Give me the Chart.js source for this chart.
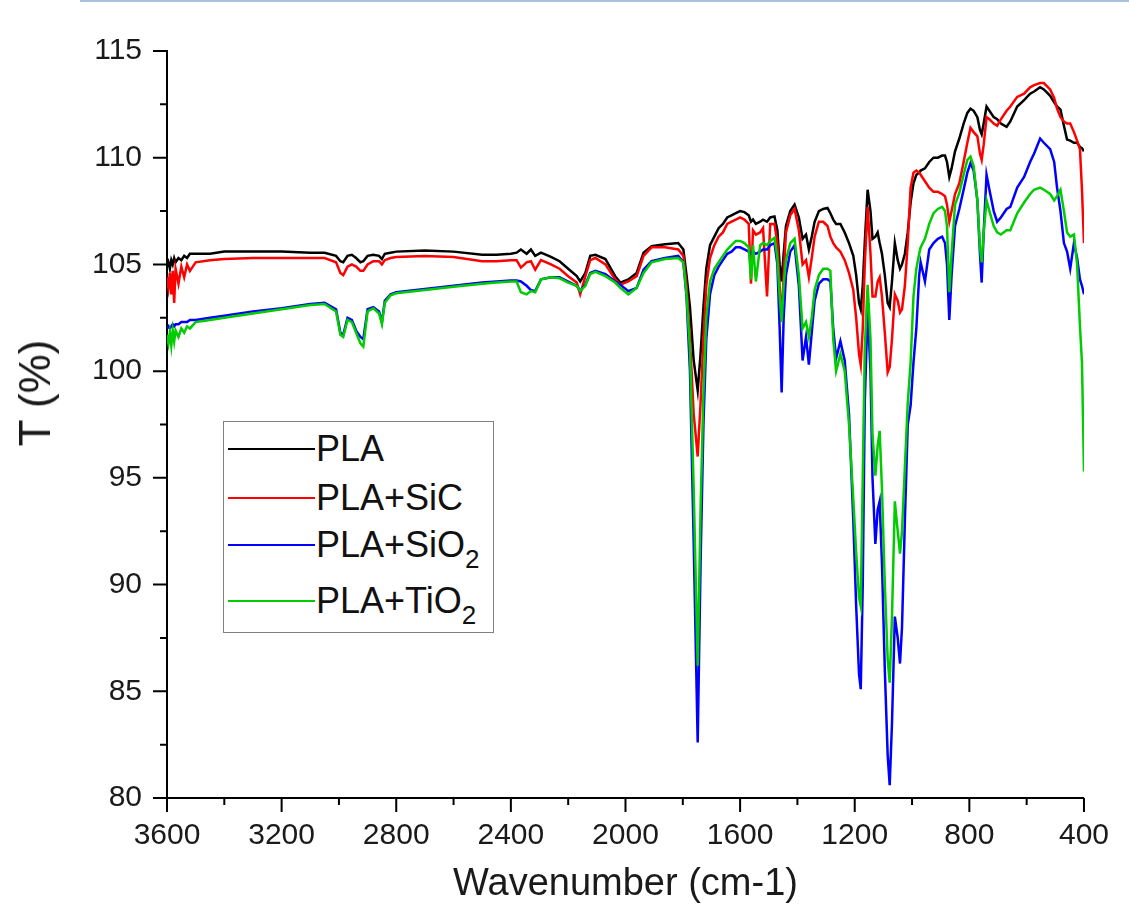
<!DOCTYPE html>
<html>
<head>
<meta charset="utf-8">
<script src="https://cdn.jsdelivr.net/npm/chart.js@4.4.1/dist/chart.umd.min.js"></script>
<style>
  html, body { margin: 0; padding: 0; background: #fff; }
  #wrap { position: relative; width: 1129px; height: 916px; }
  #topRule { position: absolute; left: 80px; right: 0; top: 0; height: 2px; background: #a9c0de; }
  #yTitle {
    position: absolute; left: 35px; top: 393px; transform: translate(-50%, -50%) rotate(-90deg);
    font-family: "Liberation Sans", Arial, sans-serif; font-size: 44px; color: #1a1a1a; white-space: nowrap;
  }
  #legend {
    position: absolute; left: 223px; top: 421px; width: 269px; height: 210px;
    border: 1.5px solid #808080; background: #fff;
    font-family: "Liberation Sans", Arial, sans-serif; font-size: 36px; color: #111;
  }
  .row { position: absolute; left: 4px; height: 40px; display: flex; align-items: center; white-space: nowrap; }
  .row .swatch { width: 87px; height: 2.5px; margin-right: 1px; }
  .row sub { font-size: 26px; vertical-align: -11px; line-height: 0; }
</style>
</head>
<body>
<div id="wrap">
  <div id="topRule"></div>
  <canvas id="chart" width="1129" height="916"></canvas>
  <div id="yTitle">T (%)</div>
  <div id="legend"></div>
</div>
<script>
// FTIR spectra, wavenumber (cm-1) vs transmittance (%)
const wavenumbers = [
  3600, 3595, 3590, 3585, 3580, 3575, 3570, 3560, 3550, 3540,
  3530, 3520, 3500, 3450, 3400, 3300, 3200, 3100, 3050, 3010,
  2995, 2985, 2970, 2955, 2940, 2925, 2915, 2900, 2880, 2860,
  2850, 2840, 2820, 2800, 2700, 2600, 2500, 2450, 2400, 2380,
  2365, 2345, 2330, 2315, 2295, 2260, 2230, 2200, 2170, 2158,
  2140, 2123, 2105, 2070, 2036, 2018, 1990, 1961, 1937, 1909,
  1862, 1816, 1798, 1787, 1775, 1762, 1748, 1738, 1728, 1718,
  1705, 1690, 1675, 1660, 1645, 1630, 1615, 1600, 1585, 1570,
  1562, 1555, 1545, 1530, 1520, 1506, 1495, 1480, 1470, 1462,
  1455, 1448, 1440, 1425, 1410, 1395, 1382, 1370, 1360, 1350,
  1340, 1325, 1310, 1295, 1285, 1275, 1265, 1250, 1235, 1220,
  1205, 1195, 1185, 1179, 1172, 1165, 1155, 1145, 1138, 1128,
  1120, 1113, 1105, 1095, 1085, 1078, 1070, 1060, 1050, 1042,
  1035, 1025, 1015, 1005, 995, 985, 975, 970, 955, 940,
  925, 910, 895, 885, 878, 870, 862, 850, 835, 820,
  807, 796, 785, 772, 763, 757, 750, 740, 730, 715,
  703, 690, 670, 657, 633, 609, 588, 574, 553, 540,
  518, 504, 494, 482, 470, 459, 448, 435, 424, 414,
  407, 400
];

const plaT = [
  104.9, 105.1, 104.8, 105.2, 105.0, 105.3, 105.1, 105.3, 105.2, 105.4,
  105.3, 105.5, 105.5, 105.5, 105.6, 105.6, 105.6, 105.55, 105.55, 105.4,
  105.15, 105.1, 105.4, 105.45, 105.3, 105.1, 105.15, 105.4, 105.45, 105.4,
  105.25, 105.5, 105.55, 105.6, 105.65, 105.6, 105.45, 105.45, 105.5, 105.55,
  105.7, 105.5, 105.7, 105.4, 105.55, 105.35, 105.15, 104.8, 104.45, 104.2,
  104.6, 105.4, 105.45, 105.25, 104.45, 104.15, 104.3, 104.6, 105.55, 105.85,
  105.95, 106.0, 105.7, 104.5, 103.0, 100.5, 99.1, 100.8, 103.0, 104.8,
  105.9, 106.3, 106.7, 106.9, 107.2, 107.3, 107.4, 107.5, 107.45, 107.3,
  107.0, 107.1, 106.9, 107.0, 107.1, 107.0, 107.2, 107.25, 106.6, 105.0,
  104.2, 105.5, 106.8, 107.5, 107.8, 107.2, 106.2, 106.4, 105.7, 106.3,
  107.0, 107.5, 107.6, 107.65, 107.4, 107.1, 106.9, 106.9, 106.5, 106.0,
  105.4, 104.5, 103.2, 102.9, 104.0, 106.0, 108.5, 107.5, 106.2, 106.3,
  106.5, 106.0, 105.5, 104.5, 103.2, 103.0, 104.2, 106.0, 105.2, 104.8,
  105.0, 105.5, 106.5, 107.9, 108.8, 109.2, 109.3, 109.4, 109.5, 109.8,
  110.0, 110.0, 110.1, 110.1, 109.8, 109.1, 109.5, 110.3, 110.9, 111.6,
  112.1, 112.3, 112.2, 111.9, 111.3, 111.1, 111.6, 112.4, 112.2, 111.9,
  111.8, 111.6, 111.45, 111.7, 112.4, 112.7, 113.0, 113.1, 113.3, 113.2,
  112.9, 112.6, 112.4, 112.25, 111.5, 110.85, 110.8, 110.7, 110.7, 110.5,
  110.45, 110.3
];

const sicT = [
  104.4, 103.9, 104.6, 103.6, 104.7, 103.2, 104.8, 104.1, 104.9, 104.4,
  105.0, 104.7, 105.1, 105.2, 105.25, 105.3, 105.3, 105.3, 105.3, 105.1,
  104.6, 104.5, 104.9, 105.0, 104.9, 104.7, 104.7, 105.0, 105.15, 105.15,
  105.0, 105.2, 105.3, 105.35, 105.4, 105.35, 105.15, 105.15, 105.2, 105.2,
  104.85, 105.1, 105.15, 104.75, 105.2, 105.0, 104.8, 104.45, 104.15, 103.6,
  104.45, 105.2, 105.3, 105.0, 104.3, 104.05, 104.2, 104.45, 105.4, 105.8,
  105.8, 105.7, 105.4, 104.0, 101.5, 98.0, 96.0, 98.5, 101.5, 104.0,
  105.3, 105.9, 106.3, 106.5, 106.9, 107.0, 107.1, 107.2, 107.1, 106.9,
  104.1, 106.6, 106.4, 106.5, 106.7, 103.5, 106.9, 106.9, 106.0, 104.0,
  102.3, 104.5, 106.5, 107.3, 107.6, 106.6, 105.0, 105.2, 104.4, 105.3,
  106.3, 107.0, 107.0, 106.8, 106.3, 106.0, 105.8, 105.6, 105.2, 104.6,
  103.8, 102.5, 100.8, 100.3, 102.0, 105.0, 107.7, 105.5, 103.5, 103.5,
  104.2, 104.4, 103.5, 101.8, 99.95, 100.2, 101.5, 103.6, 103.3, 102.75,
  102.9, 104.0, 106.0, 108.6, 109.3, 109.4, 109.3, 109.2, 108.9, 108.6,
  108.4, 108.4, 108.3, 108.2, 107.8, 107.0, 107.5, 108.3, 108.8, 109.8,
  110.7, 111.4, 111.2, 111.0, 110.2, 109.9, 110.6, 111.9, 111.8, 111.6,
  111.5, 111.8, 112.2, 112.4, 112.85, 113.0, 113.3, 113.4, 113.5, 113.5,
  113.2, 112.8, 112.3, 111.9, 111.7, 111.6, 111.6, 111.2, 110.8, 110.4,
  108.5, 106.0
];

const sio2T = [
  102.0, 102.1, 102.0, 102.1, 102.2, 102.1, 102.2, 102.2, 102.3, 102.3,
  102.3, 102.4, 102.4, 102.5, 102.6, 102.8, 102.95, 103.15, 103.2, 102.9,
  101.8, 101.7, 102.5, 102.4, 101.9, 101.6, 101.5, 102.9, 103.0, 102.8,
  102.3, 103.3, 103.6, 103.7, 103.85, 104.0, 104.15, 104.2, 104.25, 104.25,
  104.2, 104.0, 103.8, 103.75, 104.3, 104.4, 104.4, 104.2, 104.0, 103.75,
  104.05, 104.6, 104.7, 104.55, 104.2, 104.05, 103.75, 103.9, 104.75, 105.15,
  105.3, 105.4, 105.1, 103.5, 100.0, 92.0, 82.6, 91.0, 97.5, 101.5,
  103.6, 104.5, 104.9, 105.2, 105.5, 105.6, 105.8, 105.8, 105.7, 105.6,
  105.5, 105.6, 105.5, 105.6, 105.7, 105.7, 105.9, 106.0, 105.0, 102.0,
  99.0, 102.5, 104.5, 105.6, 105.9, 104.0, 100.5, 101.6, 100.3, 101.8,
  103.3, 104.1, 104.3, 104.3, 104.2, 102.0, 100.6, 101.4, 100.5, 98.0,
  93.0, 89.0, 85.8, 85.1, 90.0, 98.5, 102.9, 100.0, 95.0, 91.9,
  93.5, 93.9, 91.0, 86.0, 82.0, 80.6, 83.5, 88.5, 87.5, 86.3,
  88.0, 93.0, 97.5, 98.4, 100.4, 102.0, 104.5, 105.1, 104.2, 105.7,
  106.0, 106.2, 106.3, 106.0, 105.0, 102.4, 104.5, 106.8, 107.6, 108.5,
  109.3, 109.75, 109.4, 108.0, 105.5, 104.15, 106.5, 109.2, 108.5, 107.5,
  107.0, 107.2, 107.6, 107.7, 108.6, 109.1, 109.8, 110.2, 110.9, 110.7,
  110.4, 109.8, 108.6, 107.5, 106.0, 105.6, 104.8, 106.0, 105.3, 104.3,
  104.0, 103.6
];

const tio2T = [
  101.7, 101.3, 101.8, 101.2, 101.9, 101.4, 101.9, 101.6, 102.0, 101.8,
  102.1, 102.0, 102.3, 102.4, 102.5, 102.7, 102.9, 103.1, 103.15, 102.8,
  101.7, 101.6, 102.4, 102.3, 101.8, 101.3, 101.15, 102.8, 102.95, 102.7,
  102.2, 103.2, 103.55, 103.65, 103.8, 103.95, 104.1, 104.15, 104.2, 104.2,
  103.7, 103.6, 103.75, 103.7, 104.3, 104.4, 104.35, 104.15, 104.0, 103.75,
  104.0, 104.55, 104.65, 104.45, 104.15, 103.9, 103.6, 103.9, 104.6, 105.1,
  105.25, 105.3, 105.1, 103.6, 101.0, 94.5, 86.2, 93.5, 99.0, 102.5,
  104.2, 104.8, 105.1, 105.4, 105.7, 105.9, 106.1, 106.1, 106.0, 105.8,
  104.3, 105.9, 104.2, 105.9, 106.0, 105.9, 106.1, 106.25, 105.3, 103.5,
  102.3, 104.0, 105.2, 106.0, 106.2, 104.5, 102.0, 102.3, 101.6, 102.5,
  103.8, 104.5, 104.8, 104.8, 104.7, 101.5, 100.0, 100.8, 100.0, 97.5,
  94.0, 91.5, 89.4, 89.0, 95.0, 101.0, 104.05, 101.5, 97.0, 95.1,
  96.5, 97.2, 94.5, 90.0, 86.5, 85.4, 88.5, 93.9, 92.5, 91.45,
  92.5, 95.5, 98.5, 100.4, 103.5, 104.8, 105.5, 105.8, 106.2, 106.9,
  107.4, 107.6, 107.7, 107.5, 106.8, 103.7, 105.5, 107.8, 108.35, 109.2,
  109.9, 110.05, 109.6, 108.0, 105.8, 105.1, 106.5, 108.0, 107.5, 106.8,
  106.5, 106.4, 106.6, 106.6, 107.4, 107.9, 108.3, 108.5, 108.6, 108.5,
  108.3, 108.0, 108.2, 108.5, 107.5, 106.5, 106.3, 106.4, 105.0, 102.1,
  100.4, 95.3
];

const seriesNames = ['PLA', 'PLA+SiC', 'PLA+SiO<sub>2</sub>', 'PLA+TiO<sub>2</sub>'];
const seriesColors = ['#000000', '#ff0000', '#0000ff', '#00cc00'];

const xMajorTicks = [3600, 3200, 2800, 2400, 2000, 1600, 1200, 800, 400];
const xMinorTicks = [3400, 3000, 2600, 2200, 1800, 1400, 1000, 600];
const yMajorTicks = [80, 85, 90, 95, 100, 105, 110, 115];
const yMinorTicks = [82.5, 87.5, 92.5, 97.5, 102.5, 107.5, 112.5];

const FONT = '"Liberation Sans", Arial, sans-serif';

// outward major/minor tick marks, drawn from the chart's own scales
const tickMarks = {
  id: 'tickMarks',
  afterDraw(chart) {
    const { ctx, scales: { x, y }, chartArea } = chart;
    ctx.save();
    ctx.strokeStyle = '#000';
    ctx.lineWidth = 2;
    ctx.beginPath();
    xMajorTicks.forEach(v => { const px = x.getPixelForValue(v); ctx.moveTo(px, chartArea.bottom); ctx.lineTo(px, chartArea.bottom + 14); });
    xMinorTicks.forEach(v => { const px = x.getPixelForValue(v); ctx.moveTo(px, chartArea.bottom); ctx.lineTo(px, chartArea.bottom + 7); });
    yMajorTicks.forEach(v => { const py = y.getPixelForValue(v); ctx.moveTo(chartArea.left, py); ctx.lineTo(chartArea.left - 14, py); });
    yMinorTicks.forEach(v => { const py = y.getPixelForValue(v); ctx.moveTo(chartArea.left, py); ctx.lineTo(chartArea.left - 7, py); });
    ctx.stroke();
    ctx.restore();
  }
};

const spectra = [plaT, sicT, sio2T, tio2T];

new Chart(document.getElementById('chart'), {
  type: 'line',
  data: {
    datasets: spectra.map((vals, i) => ({
      label: seriesNames[i],
      data: wavenumbers.map((wn, j) => ({ x: wn, y: vals[j] })),
      borderColor: seriesColors[i],
      borderWidth: 2.5,
      pointRadius: 0,
      tension: 0,
      order: spectra.length - i
    }))
  },
  options: {
    responsive: false,
    animation: false,
    layout: { padding: { left: 0, right: 38, top: 51, bottom: 0 } },
    plugins: { legend: { display: false }, tooltip: { enabled: false } },
    scales: {
      x: {
        type: 'linear', min: 400, max: 3600, reverse: true,
        afterBuildTicks: s => { s.ticks = xMajorTicks.map(v => ({ value: v })); },
        afterFit: s => { s.height = 118; },
        grid: { display: false, drawTicks: false },
        border: { display: true, color: '#000', width: 2 },
        ticks: { font: { family: FONT, size: 30 }, color: '#1a1a1a', padding: 20, maxRotation: 0, callback: v => String(v) },
        title: { display: true, text: 'Wavenumber (cm-1)', font: { family: FONT, size: 38 }, color: '#1a1a1a', padding: { top: 0, bottom: 9 } }
      },
      y: {
        min: 80, max: 115,
        afterBuildTicks: s => { s.ticks = yMajorTicks.map(v => ({ value: v })); },
        afterFit: s => { s.width = 167; },
        grid: { display: false, drawTicks: false },
        border: { display: true, color: '#000', width: 2 },
        ticks: { font: { family: FONT, size: 30 }, color: '#1a1a1a', padding: 25, callback: v => String(v) },
        title: { display: false }
      }
    }
  },
  plugins: [tickMarks]
});

// legend with subscripts, as html text
const legendRowsY = [27, 76, 123, 179];
const legend = document.getElementById('legend');
seriesNames.forEach((name, i) => {
  const row = document.createElement('div');
  row.className = 'row';
  row.style.top = (legendRowsY[i] - 20) + 'px';
  row.innerHTML = '<span class="swatch" style="background:' + seriesColors[i] + '"></span><span>' + name + '</span>';
  legend.appendChild(row);
});
</script>
</body>
</html>
